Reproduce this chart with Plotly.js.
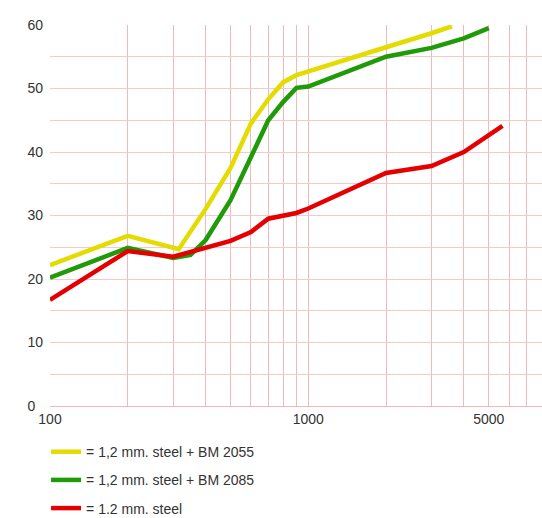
<!DOCTYPE html>
<html>
<head>
<meta charset="utf-8">
<script src="https://cdn.plot.ly/plotly-3.0.1.min.js"></script>
<style>html,body{margin:0;padding:0;background:#fff;}#chart{width:542px;height:518px;}</style>
</head>
<body>
<div id="chart"></div>
<script>
// Frequency (Hz) and values
const freqYellow = [100, 200, 315, 400, 500, 600, 700, 800, 900, 1000, 2000, 3000, 3600];
const valYellow  = [22.2, 26.8, 24.7, 31.0, 37.5, 44.5, 48.3, 51.0, 52.1, 52.7, 56.5, 58.7, 59.8];

const freqGreen = [100, 200, 300, 350, 400, 500, 600, 700, 800, 900, 1000, 2000, 3000, 4000, 5000];
const valGreen  = [20.2, 24.9, 23.3, 23.8, 26.1, 32.4, 39.2, 45.0, 47.9, 50.1, 50.3, 55.0, 56.4, 57.9, 59.5];

const freqRed = [100, 200, 300, 400, 500, 600, 700, 900, 1000, 2000, 3000, 4000, 5650];
const valRed  = [16.7, 24.4, 23.5, 25.0, 26.0, 27.4, 29.5, 30.4, 31.1, 36.7, 37.8, 40.0, 44.1];

const seriesNames = ["= 1,2 mm. steel + BM 2055", "= 1,2 mm. steel + BM 2085", "= 1.2 mm. steel"];

const xTickVals = [100,200,300,400,500,600,700,800,900,1000,2000,3000,4000,5000,6000,7000,8000];
const xTickText = ["100","","","","","","","","","1000","","","","5000","","",""];
const yTickVals = [0,5,10,15,20,25,30,35,40,45,50,55,60];
const yTickText = ["0\u00a0\u00a0","","10","","20","","30","","40","","50","","60"];

const colors = ["#e4dc00", "#1f9a08", "#e40000"];
const xs = [freqYellow, freqGreen, freqRed];
const ys = [valYellow, valGreen, valRed];

const traces = xs.map((x, i) => ({
  x: x, y: ys[i], type: "scatter", mode: "lines",
  name: seriesNames[i], legendgroup: "g" + i,
  line: {color: colors[i], width: 4.5}
}));

const layout = {
  width: 542, height: 518,
  margin: {l: 50, r: 0, t: 25, b: 112, autoexpand: false},
  paper_bgcolor: "#fff", plot_bgcolor: "#fff",
  font: {family: "Liberation Sans, Arial, sans-serif", size: 14, color: "#333"},
  showlegend: true,
  legend: {x: -0.008, y: -0.079, xanchor: "left", yanchor: "top",
           orientation: "v", traceorder: "grouped", tracegroupgap: 7,
           font: {size: 14, color: "#333"}, bgcolor: "rgba(0,0,0,0)"},
  xaxis: {
    type: "log", range: [2, 3.905],
    tickmode: "array", tickvals: xTickVals, ticktext: xTickText,
    showgrid: true, gridcolor: "#f6b8b8", gridwidth: 1,
    zeroline: false, showline: true, linecolor: "#f6b8b8", ticks: "",
    tickfont: {size: 14, color: "#333"}
  },
  yaxis: {
    range: [0, 60],
    tickmode: "array", tickvals: yTickVals, ticktext: yTickText,
    showgrid: true, gridcolor: "#f8c8c8", gridwidth: 1,
    zeroline: false, showline: false, ticks: "",
    ticklabelstandoff: 6,
    tickfont: {size: 14, color: "#333"}
  }
};

Plotly.newPlot("chart", traces, layout, {displayModeBar: false, staticPlot: true});
</script>
</body>
</html>
